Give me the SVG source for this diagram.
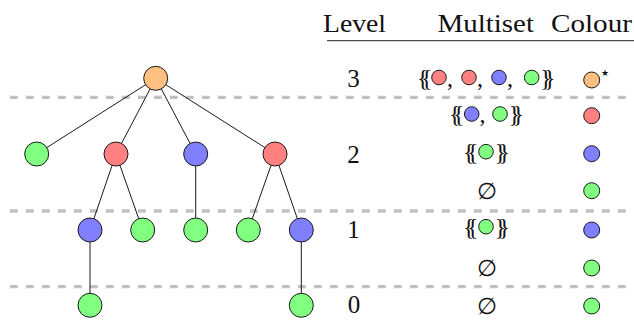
<svg xmlns="http://www.w3.org/2000/svg" width="634" height="320" viewBox="0 0 634 320">
<style>
.sep{stroke:#c0c0c0;stroke-width:3.3;stroke-dasharray:7.7 8.3;fill:none}
.edge{stroke:#1a1a1a;stroke-width:1;fill:none}
.n{stroke:#1a1a1a;stroke-width:1}
.o{fill:#ffbf80}.r{fill:#ff8080}.b{fill:#8080ff}.g{fill:#80ff80}
.t{font-family:"Liberation Serif","DejaVu Serif",serif;fill:#111}
.h{font-size:26px}
.d{font-size:25px;text-anchor:middle}
.br{font-size:24px;letter-spacing:-7.5px}
.cm{font-size:24px}
.e{font-family:"DejaVu Serif","Liberation Serif",serif;font-size:23px;text-anchor:middle;fill:#111}
</style>
<rect width="634" height="320" fill="#fff"/>
<g id="separators">
<line class="sep" x1="10" y1="97.3" x2="634" y2="97.3"/>
<line class="sep" x1="10" y1="211" x2="634" y2="211"/>
<line class="sep" x1="10" y1="286.7" x2="634" y2="286.7"/>
</g>
<g id="connectors">
<line class="edge" x1="155.7" y1="78.3" x2="36.7" y2="154"/>
<line class="edge" x1="155.7" y1="78.3" x2="116" y2="154"/>
<line class="edge" x1="155.7" y1="78.3" x2="195.7" y2="154"/>
<line class="edge" x1="155.7" y1="78.3" x2="275" y2="154"/>
<line class="edge" x1="116" y1="154" x2="90" y2="230"/>
<line class="edge" x1="116" y1="154" x2="142.7" y2="230"/>
<line class="edge" x1="195.7" y1="154" x2="195.7" y2="230"/>
<line class="edge" x1="275" y1="154" x2="248.3" y2="230"/>
<line class="edge" x1="275" y1="154" x2="301.3" y2="230"/>
<line class="edge" x1="90" y1="230" x2="90" y2="305.3"/>
<line class="edge" x1="301.3" y1="230" x2="301.3" y2="305.3"/>
</g>
<g id="root"><circle class="n o" cx="155.7" cy="78.3" r="12"/></g>
<g id="l2a"><circle class="n g" cx="36.7" cy="154" r="12"/></g>
<g id="l2b"><circle class="n r" cx="116" cy="154" r="12"/></g>
<g id="l2c"><circle class="n b" cx="195.7" cy="154" r="12"/></g>
<g id="l2d"><circle class="n r" cx="275" cy="154" r="12"/></g>
<g id="l1a"><circle class="n b" cx="90" cy="230" r="12"/></g>
<g id="l1b"><circle class="n g" cx="142.7" cy="230" r="12"/></g>
<g id="l1c"><circle class="n g" cx="195.7" cy="230" r="12"/></g>
<g id="l1d"><circle class="n g" cx="248.3" cy="230" r="12"/></g>
<g id="l1e"><circle class="n b" cx="301.3" cy="230" r="12"/></g>
<g id="l0a"><circle class="n g" cx="90" cy="305.3" r="12"/></g>
<g id="l0b"><circle class="n g" cx="301.3" cy="305.3" r="12"/></g>
<g id="table">
<text class="t h" x="323" y="31.5" textLength="63" lengthAdjust="spacingAndGlyphs">Level</text>
<text class="t h" x="437.5" y="31.5" textLength="96.5" lengthAdjust="spacingAndGlyphs">Multiset</text>
<text class="t h" x="551" y="31.5" textLength="81" lengthAdjust="spacingAndGlyphs">Colour</text>
<line x1="327" y1="40.7" x2="634" y2="40.7" stroke="#222" stroke-width="1"/>
<text class="t d" x="353.5" y="87">3</text>
<text class="t d" x="353.5" y="163">2</text>
<text class="t d" x="353.5" y="238">1</text>
<text class="t d" x="354" y="313">0</text>
<!-- row 3 -->
<text class="t br" x="417" y="85.5">{{</text>
<circle class="n r" cx="439" cy="77.5" r="7.3"/>
<text class="t cm" x="447" y="85.5">,</text>
<circle class="n r" cx="469" cy="77.5" r="7.3"/>
<text class="t cm" x="477" y="85.5">,</text>
<circle class="n b" cx="499" cy="77.5" r="7.3"/>
<text class="t cm" x="507" y="85.5">,</text>
<circle class="n g" cx="531.7" cy="77.5" r="7.3"/>
<text class="t br" x="540" y="85.5">}}</text>
<circle class="n o" cx="591.7" cy="80" r="8"/>
<text x="601" y="75.5" font-family="DejaVu Sans,sans-serif" font-size="9" fill="#111">★</text>
<!-- row 2a -->
<text class="t br" x="449" y="122">{{</text>
<circle class="n b" cx="471.7" cy="114" r="7.3"/>
<text class="t cm" x="479.5" y="122">,</text>
<circle class="n g" cx="500" cy="114" r="7.3"/>
<text class="t br" x="508.5" y="122">}}</text>
<circle class="n r" cx="591.7" cy="115.7" r="8"/>
<!-- row 2b -->
<text class="t br" x="463" y="160">{{</text>
<circle class="n g" cx="486" cy="151.7" r="7.3"/>
<text class="t br" x="494.5" y="160">}}</text>
<circle class="n b" cx="591.7" cy="153.7" r="8"/>
<!-- row 2c -->
<text class="e" x="486.7" y="198.5">∅</text>
<circle class="n g" cx="591.7" cy="190.7" r="8"/>
<!-- row 1a -->
<text class="t br" x="463" y="235">{{</text>
<circle class="n g" cx="486" cy="226.7" r="7.3"/>
<text class="t br" x="494.5" y="235">}}</text>
<circle class="n b" cx="591.7" cy="230" r="8"/>
<!-- row 1b -->
<text class="e" x="486.7" y="276">∅</text>
<circle class="n g" cx="591.7" cy="268" r="8"/>
<!-- row 0 -->
<text class="e" x="486.7" y="314">∅</text>
<circle class="n g" cx="591.7" cy="306" r="8"/>
</g>
</svg>
